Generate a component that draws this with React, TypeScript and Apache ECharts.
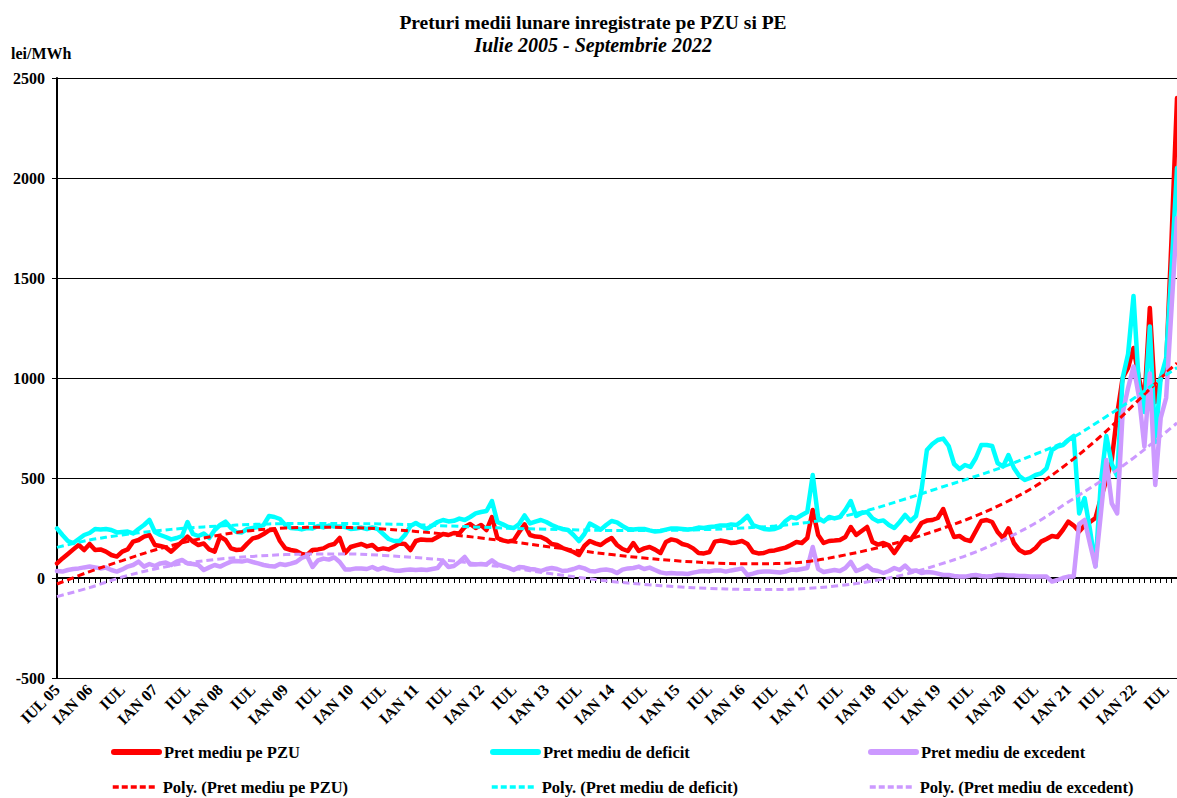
import React, { useEffect, useRef } from "react";
import * as echarts from "echarts";

const FONT = '"Liberation Serif", "Times New Roman", Times, serif';

// Monthly categories Jul 2005 .. Sep 2022
const MONTHS: string[] = (() => {
  const out: string[] = [];
  let y = 2005, m = 7;
  while (y < 2022 || (y === 2022 && m <= 9)) {
    out.push(`${y}-${String(m).padStart(2, "0")}`);
    m++;
    if (m > 12) { m = 1; y++; }
  }
  return out;
})();

const TICK_LABELS = [
  "IUL 05", "IAN 06", "IUL", "IAN 07", "IUL", "IAN 08", "IUL", "IAN 09", "IUL",
  "IAN 10", "IUL", "IAN 11", "IUL", "IAN 12", "IUL", "IAN 13", "IUL", "IAN 14",
  "IUL", "IAN 15", "IUL", "IAN 16", "IUL", "IAN 17", "IUL", "IAN 18", "IUL",
  "IAN 19", "IUL", "IAN 20", "IUL", "IAN 21", "IUL", "IAN 22", "IUL",
];

const Y_MIN = -500;
const Y_MAX = 2500;
const Y_STEP = 500;

// Pret mediu pe PZU (lei/MWh)
const PZU = [
  73, 98, 120, 143, 165, 140, 170, 140, 143, 132, 115, 107, 132, 143, 182, 190, 207, 215, 165, 160,
  153, 132, 157, 182, 207, 182, 165, 173, 143, 132, 207, 190, 148, 140, 143, 172, 198, 205, 220, 238,
  243, 185, 148, 140, 135, 120, 115, 140, 143, 148, 163, 170, 200, 125, 155, 163, 170, 158, 165, 142,
  148, 143, 157, 173, 170, 140, 185, 193, 190, 190, 205, 220, 215, 225, 223, 255, 270, 250, 265, 240,
  305, 200, 188, 182, 188, 230, 268, 215, 207, 205, 192, 170, 165, 150, 140, 130, 115, 160, 185, 173,
  165, 185, 200, 165, 145, 135, 175, 135, 148, 155, 142, 125, 180, 193, 187, 170, 163, 148, 125, 123,
  130, 182, 187, 183, 175, 178, 185, 170, 130, 123, 125, 135, 138, 145, 152, 165, 180, 175, 200, 340,
  215, 175, 185, 187, 190, 205, 255, 215, 235, 255, 180, 167, 175, 163, 125, 165, 205, 190, 230, 275,
  287, 290, 300, 345, 270, 205, 210, 192, 185, 235, 285, 290, 280, 230, 200, 248, 175, 140, 125, 130,
  150, 182, 195, 210, 205, 240, 282, 262, 232, 262, 280, 300, 400, 490, 590, 820, 1000, 1050, 1150, 1000,
  880, 1350, 880, 1000, 1060, 1700, 2400,
];

// Pret mediu de deficit (lei/MWh)
const DEFICIT = [
  248, 215, 185, 175, 195, 215, 225, 245, 243, 245, 240, 228, 230, 232, 223, 245, 265, 290, 230, 215,
  205, 193, 200, 210, 280, 220, 210, 222, 200, 240, 265, 282, 250, 230, 228, 245, 250, 255, 265, 310,
  305, 295, 265, 250, 248, 243, 250, 248, 260, 253, 262, 258, 257, 255, 245, 248, 252, 245, 253, 245,
  220, 195, 185, 185, 215, 260, 275, 258, 245, 262, 280, 290, 283, 286, 297, 290, 305, 323, 330, 335,
  385, 280, 268, 255, 250, 270, 313, 273, 282, 290, 280, 265, 253, 245, 240, 215, 185, 220, 272, 258,
  242, 265, 285, 278, 260, 245, 242, 245, 245, 238, 232, 235, 242, 248, 248, 245, 242, 245, 252, 250,
  255, 258, 262, 262, 268, 265, 285, 310, 265, 255, 245, 242, 245, 255, 285, 305, 298, 315, 330, 515,
  300, 283, 305, 298, 305, 340, 385, 310, 325, 330, 298, 283, 288, 265, 250, 280, 315, 285, 310, 440,
  640, 670, 690, 697, 660, 570, 545, 565, 555, 600, 665, 665, 660, 575, 557, 615, 550, 510, 490, 500,
  515, 523, 548, 640, 657, 665, 690, 710, 323, 400, 240, 60, 480, 710, 570, 510, 1000, 1120, 1410, 960,
  830, 1257, 680, 1000, 1100, 1550, 2050,
];

// Pret mediu de excedent (lei/MWh)
const EXCEDENT = [
  35, 32, 40, 45, 48, 53, 57, 53, 48, 52, 40, 32, 43, 57, 65, 82, 57, 70, 60, 73,
  77, 65, 82, 90, 73, 70, 65, 40, 53, 65, 57, 70, 82, 85, 82, 88, 80, 73, 65, 60,
  57, 70, 65, 72, 80, 100, 110, 55, 88, 97, 92, 103, 80, 43, 43, 48, 48, 45, 55, 42,
  52, 43, 38, 36, 40, 42, 40, 42, 40, 45, 50, 85, 55, 60, 80, 105, 68, 68, 70, 68,
  88, 68, 60, 52, 40, 55, 52, 45, 42, 35, 45, 50, 45, 35, 38, 45, 55, 48, 35, 33,
  40, 42, 38, 25, 42, 48, 50, 57, 45, 52, 40, 28, 23, 25, 23, 22, 20, 27, 32, 35,
  33, 38, 38, 32, 38, 42, 48, 15, 22, 30, 32, 32, 30, 28, 32, 42, 40, 45, 50, 155,
  45, 30, 35, 40, 35, 50, 80, 35, 45, 62, 40, 35, 25, 35, 50, 40, 62, 35, 38, 25,
  30, 28, 22, 15, 15, 10, 8, 7, 12, 15, 10, 8, 10, 15, 15, 12, 12, 10, 10, 8,
  8, 8, 7, -18, -10, 0, 7, 7, 270, 290, 170, 57, 323, 590, 373, 323, 823, 950, 1057, 907,
  657, 1023, 465, 800, 900, 1350, 1800,
];

// Polynomial trend lines, read every 6 months (month index from Jul 2005)
const TREND_MONTHS = [
  0, 6, 12, 18, 24, 30, 36, 42, 48, 54, 60, 66, 72, 78, 84, 90, 96, 102,
  108, 114, 120, 126, 132, 138, 144, 150, 156, 162, 168, 174, 180, 186, 192, 198, 204, 206,
];
const TREND_PZU = [
  -30, 32, 87, 140, 182, 215, 238, 250, 254, 252, 245, 233, 218, 200, 180, 158, 137, 117,
  100, 86, 76, 71, 72, 82, 110, 145, 188, 240, 300, 372, 460, 575, 710, 865, 1025, 1075,
];
const TREND_DEFICIT = [
  153, 190, 215, 235, 250, 260, 268, 272, 273, 272, 270, 266, 260, 254, 248, 244, 240, 238,
  238, 239, 243, 250, 260, 278, 305, 345, 395, 448, 500, 555, 620, 690, 790, 897, 1015, 1052,
];
const TREND_EXCEDENT = [
  -93, -48, 5, 45, 75, 95, 108, 117, 120, 120, 113, 102, 88, 68, 48, 25, 3, -17,
  -32, -44, -52, -57, -58, -52, -38, -15, 18, 65, 120, 190, 275, 380, 485, 600, 730, 775,
];

const NAMES = {
  pzu: "Pret mediu pe PZU",
  def: "Pret mediu de deficit",
  exc: "Pret mediu de excedent",
  tpzu: "Poly. (Pret mediu pe PZU)",
  tdef: "Poly. (Pret mediu de deficit)",
  texc: "Poly. (Pret mediu de excedent)",
};

const RED = "#FF0000";
const CYAN = "#00FFFF";
const PURPLE = "#CC99FF";

function solid(name: string, data: number[], color: string) {
  return {
    name,
    type: "line",
    data,
    symbol: "none",
    showSymbol: false,
    color,
    lineStyle: { color, width: 4.5, cap: "round", join: "round" },
    z: 2,
  };
}

function trend(name: string, vals: number[], color: string) {
  return {
    name,
    type: "line",
    data: TREND_MONTHS.map((m, i) => [m, vals[i]]),
    symbol: "none",
    showSymbol: false,
    smooth: 0.35,
    color,
    lineStyle: { color, width: 3, type: [7, 4] },
    z: 3,
  };
}

function legendItem(name: string, left: number, top: number, dashed: boolean) {
  return {
    orient: "horizontal",
    left,
    top,
    itemWidth: 45,
    itemHeight: 14,
    padding: 0,
    data: [name],
    itemStyle: { opacity: 0 },
    lineStyle: dashed
      ? { width: 3.5, type: [6, 3] }
      : { width: 6, cap: "round" },
    textStyle: {
      fontFamily: FONT,
      fontWeight: "bold",
      fontSize: 16.5,
      color: "#000",
      lineHeight: 18,
    },
  };
}

export default function App() {
  const ref = useRef<HTMLDivElement>(null);

  useEffect(() => {
    if (!ref.current) return;
    const chart = echarts.init(ref.current, null, { renderer: "svg" });
    const option: any = {
      animation: false,
      backgroundColor: "#ffffff",
      textStyle: { fontFamily: FONT },
      graphic: [
        {
          type: "text",
          x: 593,
          y: 22,
          style: {
            text: "Preturi medii lunare inregistrate pe PZU si PE",
            font: `bold 19.5px ${FONT}`,
            fill: "#000",
            align: "center",
            verticalAlign: "middle",
          },
        },
        {
          type: "text",
          x: 593,
          y: 45,
          style: {
            text: "Iulie 2005 - Septembrie 2022",
            font: `italic bold 20px ${FONT}`,
            fill: "#000",
            align: "center",
            verticalAlign: "middle",
          },
        },
        {
          type: "text",
          x: 11,
          y: 53,
          style: {
            text: "lei/MWh",
            font: `bold 16px ${FONT}`,
            fill: "#000",
            align: "left",
            verticalAlign: "middle",
          },
        },
      ],
      legend: [
        legendItem(NAMES.pzu, 111, 743, false),
        legendItem(NAMES.tpzu, 111, 778, true),
        legendItem(NAMES.def, 490, 743, false),
        legendItem(NAMES.tdef, 490, 778, true),
        legendItem(NAMES.exc, 868, 743, false),
        legendItem(NAMES.texc, 868, 778, true),
      ],
      grid: { left: 57, right: 0, top: 78, bottom: 120, containLabel: false },
      xAxis: {
        type: "category",
        data: MONTHS,
        boundaryGap: false,
        axisLine: { onZero: true, lineStyle: { color: "#000", width: 2 } },
        axisTick: {
          show: true,
          interval: 0,
          length: 5,
          lineStyle: { color: "#000", width: 1 },
        },
        axisLabel: {
          interval: 5,
          rotate: 45,
          margin: 9,
          fontFamily: FONT,
          fontWeight: "bold",
          fontSize: 16,
          color: "#000",
          formatter: (_v: string, idx: number) =>
            idx % 6 === 0 ? TICK_LABELS[idx / 6] ?? "" : "",
        },
        splitLine: { show: false },
      },
      yAxis: {
        type: "value",
        min: Y_MIN,
        max: Y_MAX,
        interval: Y_STEP,
        axisLine: { show: true, lineStyle: { color: "#000", width: 2 } },
        axisTick: { show: true, length: 5, lineStyle: { color: "#000", width: 1 } },
        axisLabel: {
          margin: 12,
          fontFamily: FONT,
          fontWeight: "bold",
          fontSize: 16,
          color: "#000",
          formatter: (v: number) => String(v),
        },
        splitLine: { show: true, lineStyle: { color: "#000", width: 1 } },
      },
      series: [
        solid(NAMES.pzu, PZU, RED),
        solid(NAMES.def, DEFICIT, CYAN),
        solid(NAMES.exc, EXCEDENT, PURPLE),
        trend(NAMES.tpzu, TREND_PZU, RED),
        trend(NAMES.tdef, TREND_DEFICIT, CYAN),
        trend(NAMES.texc, TREND_EXCEDENT, PURPLE),
      ],
    };
    chart.setOption(option);
    return () => chart.dispose();
  }, []);

  return (
    <div
      ref={ref}
      style={{
        position: "fixed",
        left: 0,
        top: 0,
        width: 1177,
        height: 798,
        background: "#fff",
      }}
    />
  );
}
